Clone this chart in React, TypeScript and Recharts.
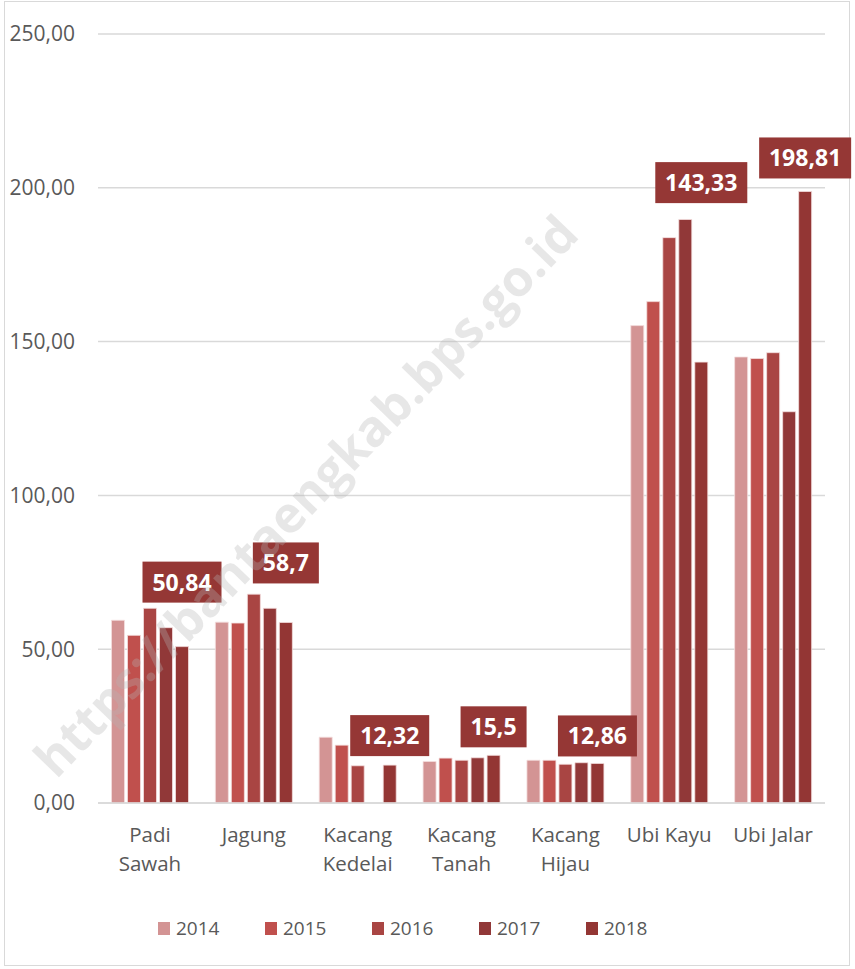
import { Bar, BarChart, CartesianGrid, LabelList, Legend, XAxis, YAxis } from "recharts";

const categories = [
  "Padi\nSawah",
  "Jagung",
  "Kacang\nKedelai",
  "Kacang\nTanah",
  "Kacang\nHijau",
  "Ubi Kayu",
  "Ubi Jalar",
];

const years = ["2014", "2015", "2016", "2017", "2018"];

const values2014 = [59.4, 58.8, 21.4, 13.5, 13.9, 155.2, 145.0];
const values2015 = [54.5, 58.5, 18.8, 14.6, 13.9, 163.0, 144.5];
const values2016 = [63.3, 67.9, 12.1, 13.9, 12.6, 183.8, 146.4];
const values2017 = [57.0, 63.3, null, 14.7, 13.1, 189.7, 127.2];
const values2018 = [50.84, 58.7, 12.32, 15.5, 12.86, 143.33, 198.81];

const yTicks = [0, 50, 100, 150, 200, 250];

const colors = ["#D39494", "#C0504D", "#A94543", "#913838", "#933634"];

// how far each 2018 callout sits above its bar (px), as in the original
const labelLift = [44, 39, 9, 8, 7, 159, 13];

const seriesValues = [values2014, values2015, values2016, values2017, values2018];

const data = categories.map((name, i) => {
  const row: Record<string, string | number | null> = { name };
  years.forEach((y, s) => {
    row[y] = seriesValues[s][i];
  });
  return row;
});

const fmt = (v: number) => v.toFixed(2).replace(".", ",");
const FONT = "'Open Sans', 'Noto Sans', sans-serif";
const TEXT = "#595959";

const CategoryTick = (props: any) => {
  const { x, y, payload } = props;
  const lines = String(payload.value).split("\n");
  return (
    <text x={x} y={y} textAnchor="middle" fill={TEXT} fontSize={20.5} fontFamily={FONT}>
      {lines.map((line, i) => (
        <tspan key={i} x={x} y={y + 31 + i * 29}>
          {line}
        </tspan>
      ))}
    </text>
  );
};

const Callout = (props: any) => {
  const { x, y, width, value, index } = props;
  if (value == null) return null;
  const text = String(value).replace(".", ",");
  const boxW = text.length * 13 + 14;
  const boxH = 41;
  const cx = Number(x) + Number(width) / 2;
  const bottom = Number(y) - labelLift[index];
  return (
    <g>
      <rect x={cx - boxW / 2} y={bottom - boxH} width={boxW} height={boxH} fill="#953735" />
      <text
        x={cx}
        y={bottom - boxH / 2 + 8.5}
        textAnchor="middle"
        fill="#ffffff"
        fontSize={23}
        fontWeight={700}
        fontFamily={FONT}
      >
        {text}
      </text>
    </g>
  );
};

const LegendContent = (props: any) => {
  const { payload } = props;
  return (
    <div style={{ display: "flex", justifyContent: "flex-start", paddingLeft: 158, height: 26 }}>
      {payload.map((entry: any) => (
        <div
          key={entry.value}
          style={{ display: "flex", alignItems: "center", width: 107, fontFamily: FONT, fontSize: 19, color: TEXT }}
        >
          <span style={{ display: "inline-block", width: 12, height: 13, background: entry.color, marginRight: 6 }} />
          {entry.value}
        </div>
      ))}
    </div>
  );
};

export default function App() {
  return (
    <div style={{ position: "absolute", left: 0, top: 0, width: 855, height: 969, background: "#fff" }}>
      <div
        style={{
          position: "absolute",
          left: 4,
          top: 1,
          width: 846,
          height: 965,
          border: "1px solid #d9d9d9",
          boxSizing: "border-box",
        }}
      />
      <BarChart
        width={855}
        height={969}
        data={data}
        margin={{ top: 34, right: 30, bottom: 28, left: 0 }}
        barCategoryGap="13%"
        barGap={3}
      >
        <CartesianGrid vertical={false} stroke="#d9d9d9" strokeWidth={1.5} />
        <XAxis
          dataKey="name"
          tick={<CategoryTick />}
          tickLine={false}
          axisLine={{ stroke: "#d9d9d9", strokeWidth: 1.5 }}
          interval={0}
          height={112}
        />
        <YAxis
          domain={[0, 250]}
          ticks={yTicks}
          tickFormatter={fmt}
          tick={{ fontSize: 21, fill: TEXT, fontFamily: FONT }}
          tickLine={false}
          axisLine={false}
          tickMargin={17}
          width={98}
        />
        <Legend
          verticalAlign="bottom"
          content={<LegendContent />}
          wrapperStyle={{ left: 0, bottom: 28, width: 855 }}
        />
        {years.map((y, s) => (
          <Bar
            key={y}
            dataKey={y}
            fill={colors[s]}
            stroke="#f4dede"
            strokeWidth={0.8}
            isAnimationActive={false}
          >
            {s === years.length - 1 && <LabelList dataKey={y} content={<Callout />} />}
          </Bar>
        ))}
      </BarChart>
      <div
        style={{
          position: "absolute",
          left: 305,
          top: 495,
          transform: "translate(-50%, -50%) rotate(-46deg)",
          fontFamily: FONT,
          fontWeight: 700,
          fontSize: 50,
          color: "rgba(180,180,180,0.32)",
          whiteSpace: "nowrap",
          pointerEvents: "none",
        }}
      >
        https://bantaengkab.bps.go.id
      </div>
    </div>
  );
}
